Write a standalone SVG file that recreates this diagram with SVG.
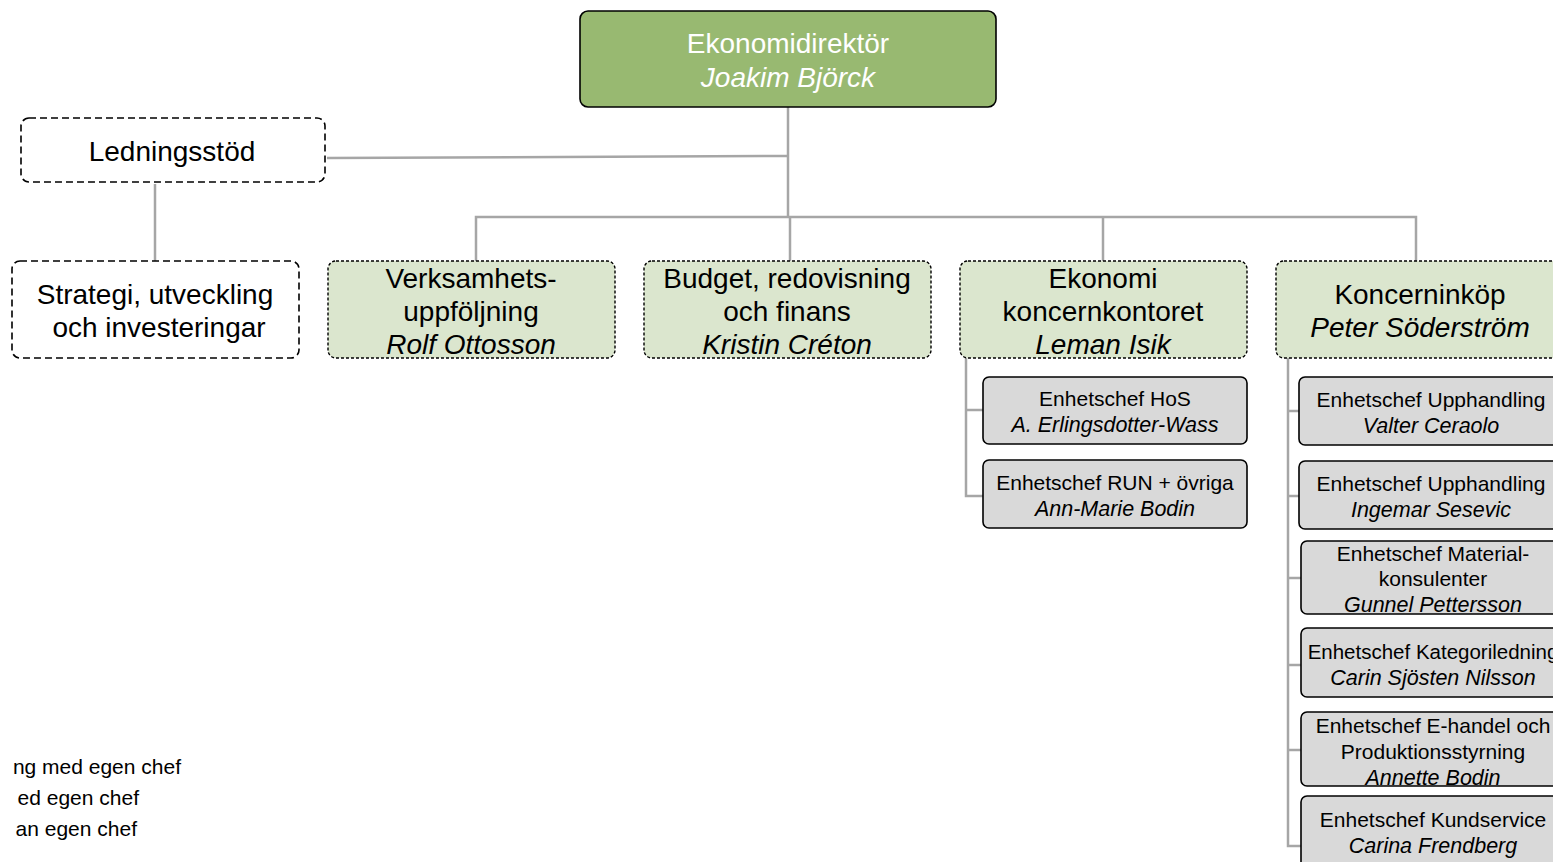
<svg xmlns="http://www.w3.org/2000/svg" width="1553" height="862" viewBox="0 0 1553 862">
<style>
text{font-family:"Liberation Sans",Arial,sans-serif;text-anchor:middle;fill:#000}
.it{font-style:italic}
.big{font-size:28px}
.sm{font-size:21px}
.sm.it{font-size:21.5px}
.top{fill:#98b971;stroke:#000;stroke-width:1.6}
.wt{fill:#fff}
.dash{fill:#fff;stroke:#000;stroke-width:1.6;stroke-dasharray:7 4}
.lv2{fill:#dbe6ce;stroke:#000;stroke-width:1.4;stroke-dasharray:3 2}
.unit{fill:#d9d9d9;stroke:#000;stroke-width:1.6}
.conn{fill:none;stroke:#a6a6a6;stroke-width:2.5}
</style>
<g id="connectors" class="conn">
<path d="M788 107V217"/>
<path d="M327 158L788 156"/>
<path d="M155 184V261"/>
<path d="M476 261V217H1416V261"/>
<path d="M790 217V261"/>
<path d="M1103 217V261"/>
<path d="M966 358V496H983M966 410H983"/>
<path d="M1288 358V846H1301M1288 411H1299M1288 496H1299M1288 578H1301M1288 665H1301M1288 750H1301"/>
<path d="M1320 527H1364" stroke-width="2"/>
</g>
<g id="n-ekonomidirektor">
<rect class="top" x="580" y="11" width="416" height="96" rx="8"/>
<text class="big wt" x="788" y="53">Ekonomidirektör</text>
<text class="big it wt" x="788" y="87">Joakim Björck</text>
</g>
<g id="n-ledningsstod">
<rect class="dash" x="21" y="118" width="304" height="64" rx="8"/>
<text class="big" x="172" y="161">Ledningsstöd</text>
</g>
<g id="n-strategi">
<rect class="dash" x="12" y="261" width="287" height="97" rx="8"/>
<text class="big" x="155" y="304">Strategi, utveckling</text>
<text class="big" x="159" y="337">och investeringar</text>
</g>
<g id="n-verksamhet">
<rect class="lv2" x="328" y="261" width="287" height="97" rx="8"/>
<text class="big" x="471" y="288">Verksamhets-</text>
<text class="big" x="471" y="321">uppföljning</text>
<text class="big it" x="471" y="354">Rolf Ottosson</text>
</g>
<g id="n-budget">
<rect class="lv2" x="644" y="261" width="287" height="97" rx="8"/>
<text class="big" x="787" y="288">Budget, redovisning</text>
<text class="big" x="787" y="321">och finans</text>
<text class="big it" x="787" y="354">Kristin Créton</text>
</g>
<g id="n-ekonomi">
<rect class="lv2" x="960" y="261" width="287" height="97" rx="8"/>
<text class="big" x="1103" y="288">Ekonomi</text>
<text class="big" x="1103" y="321">koncernkontoret</text>
<text class="big it" x="1103" y="354">Leman Isik</text>
</g>
<g id="n-koncerninkop">
<rect class="lv2" x="1276" y="261" width="287" height="97" rx="8"/>
<text class="big" x="1420" y="304">Koncerninköp</text>
<text class="big it" x="1420" y="337">Peter Söderström</text>
</g>
<g id="n-hos">
<rect class="unit" x="983" y="377" width="264" height="67" rx="6"/>
<text class="sm" x="1115" y="406">Enhetschef HoS</text>
<text class="sm it" x="1115" y="432">A. Erlingsdotter-Wass</text>
</g>
<g id="n-run">
<rect class="unit" x="983" y="460" width="264" height="68" rx="6"/>
<text class="sm" x="1115" y="490">Enhetschef RUN + övriga</text>
<text class="sm it" x="1115" y="516">Ann-Marie Bodin</text>
</g>
<g id="n-valter">
<rect class="unit" x="1299" y="377" width="264" height="68" rx="6"/>
<text class="sm" x="1431" y="407">Enhetschef Upphandling</text>
<text class="sm it" x="1431" y="433">Valter Ceraolo</text>
</g>
<g id="n-ingemar">
<rect class="unit" x="1299" y="461" width="264" height="68" rx="6"/>
<text class="sm" x="1431" y="491">Enhetschef Upphandling</text>
<text class="sm it" x="1431" y="517">Ingemar Sesevic</text>
</g>
<g id="n-gunnel">
<rect class="unit" x="1301" y="541" width="264" height="73" rx="6"/>
<text class="sm" x="1433" y="561">Enhetschef Material-</text>
<text class="sm" x="1433" y="586">konsulenter</text>
<text class="sm it" x="1433" y="612">Gunnel Pettersson</text>
</g>
<g id="n-carin">
<rect class="unit" x="1301" y="628" width="264" height="69" rx="6"/>
<text class="sm" x="1433" y="659" style="font-size:20.5px">Enhetschef Kategoriledning</text>
<text class="sm it" x="1433" y="685">Carin Sjösten Nilsson</text>
</g>
<g id="n-annette">
<rect class="unit" x="1301" y="712" width="264" height="74" rx="6"/>
<text class="sm" x="1433" y="733">Enhetschef E-handel och</text>
<text class="sm" x="1433" y="759">Produktionsstyrning</text>
<text class="sm it" x="1433" y="785">Annette Bodin</text>
</g>
<g id="n-carina">
<rect class="unit" x="1301" y="796" width="264" height="80" rx="6"/>
<text class="sm" x="1433" y="827">Enhetschef Kundservice</text>
<text class="sm it" x="1433" y="853">Carina Frendberg</text>
</g>
<g id="legend">
<text class="sm" x="181" y="774" style="text-anchor:end">ng med egen chef</text>
<text class="sm" x="139" y="805" style="text-anchor:end">ed egen chef</text>
<text class="sm" x="137" y="836" style="text-anchor:end">an egen chef</text>
</g>
</svg>
